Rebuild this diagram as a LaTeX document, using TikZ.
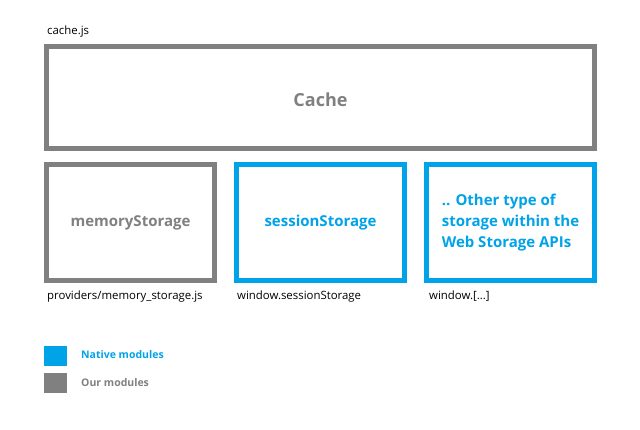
\documentclass[tikz,border=0pt]{standalone}
\usepackage{fontspec}
\setmainfont{Open Sans}
\usetikzlibrary{positioning}
\definecolor{ourgrey}{RGB}{128,128,128}
\definecolor{nativeblue}{RGB}{0,162,232}
\begin{document}
\begin{tikzpicture}[x=1pt, y=-1pt, node distance=17pt,
  box/.style = {draw, line width=5pt, minimum width=168pt, minimum height=116pt, font=\bfseries\fontsize{15}{21}\selectfont},
  ours/.style = {box, draw=ourgrey, text=ourgrey},
  native/.style = {box, draw=nativeblue, text=nativeblue},
  file/.style = {anchor=base west, inner sep=0pt, font=\fontsize{11.4}{13}\selectfont},
  key/.style = {minimum width=23pt, minimum height=20pt, inner sep=0pt},
  keytext/.style = {anchor=west, inner sep=0pt, font=\bfseries\fontsize{10.5}{12}\selectfont}]
\useasboundingbox (0,0) rectangle (640,430);
\node[ours, minimum width=548pt, minimum height=102pt, text height=17.5pt, text depth=0pt, font=\bfseries\fontsize{18}{21}\selectfont] (cache) at (320.5,97.5) {Cache};
\node[ours] (memory) at (130.5,222.5) {memoryStorage};
\node[native] (session) [right=of memory] {sessionStorage};
\node[native, align=left] (other) [right=of session] {.. Other type of\\storage within the\\Web Storage APIs};
% file names
\node[file] (cachejs) at (47,35) {cache.js};
\node[file] (memoryjs) at (47,300) {providers/memory\_storage.js};
\node[file] (sessionjs) at (237,300) {window.sessionStorage};
\node[file] (otherjs) at (429,300) {window.[...]};
% legend
\node[key, fill=nativeblue] (nativekey) at (55.5,356) {};
\node[key, fill=ourgrey] (ourkey) at (55.5,383) {};
\node[keytext, text=nativeblue] (nativetext) at (81,355) {Native modules};
\node[keytext, text=ourgrey] (ourtext) at (81,382.5) {Our modules};
\end{tikzpicture}
\end{document}
